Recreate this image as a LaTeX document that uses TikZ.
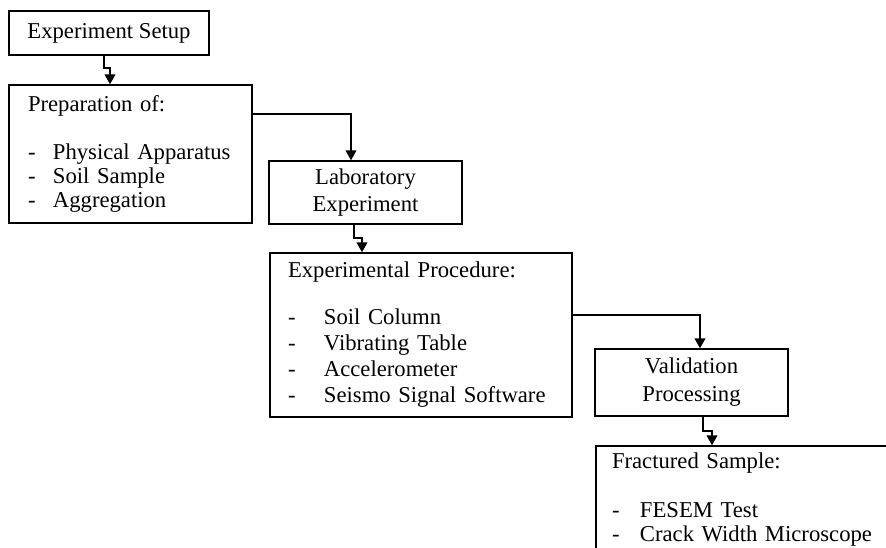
\documentclass[tikz,border=0pt]{standalone}
\usepackage{fontspec}
\setmainfont{Liberation Serif}
\usetikzlibrary{arrows.meta,calc}
\tikzset{
  box/.style={draw, line width=1pt, rectangle, inner sep=0pt, font=\fontsize{17}{18}\selectfont},
  arr/.style={line width=1.3pt, -{Triangle[length=7.5pt,width=8pt]}},
}
\begin{document}
\begin{tikzpicture}[x=0.75pt,y=-0.75pt]
\useasboundingbox (0,0) rectangle (886,547);
\clip (0,0) rectangle (886,547);
\node[box, minimum width=150pt, minimum height=33pt] (b1) at (109,33) {Experiment Setup};
\node[box, minimum width=182.25pt, minimum height=103.5pt, text width=153.75pt, align=left] (b2) at (130.5,154)
  {Preparation of:\\[18pt]\makebox[18.75pt][l]{-}Physical Apparatus\\\makebox[18.75pt][l]{-}Soil Sample\\\makebox[18.75pt][l]{-}Aggregation};
\node[box, minimum width=144.75pt, minimum height=47.25pt, align=center, font=\fontsize{17}{20.25}\selectfont] (b3) at (365.5,192.5)
  {Laboratory\\Experiment};
\node[box, minimum width=226.5pt, minimum height=123pt, text width=199.5pt, align=left, font=\fontsize{17}{19.5}\selectfont] (b4) at (421,335)
  {Experimental Procedure:\\[15.75pt]\makebox[27pt][l]{-}Soil Column\\\makebox[27pt][l]{-}Vibrating Table\\\makebox[27pt][l]{-}Accelerometer\\\makebox[27pt][l]{-}Seismo Signal Software};
\node[box, minimum width=144.75pt, minimum height=50.25pt, align=center, font=\fontsize{17}{21}\selectfont] (b5) at (691.5,382.5)
  {Validation\\Processing};
\node[box, minimum width=228pt, minimum height=80.25pt, text width=204pt, align=left, font=\fontsize{17}{18.4}\selectfont] (b6) at (748,499.5)
  {Fractured Sample:\\[18.4pt]\makebox[21pt][l]{-}FESEM Test\\\makebox[21pt][l]{-}Crack Width Microscope};
\draw[arr] ($(b1.south)+(-5,0)$) -- ++(0,12) -| ($(b2.north)+(-20.5,0)$);
\draw[arr] ($(b2.east)+(0,-40)$) -| ($(b3.north)+(-14.5,0)$);
\draw[arr] ($(b3.south)+(-11.5,0)$) -- ++(0,13) -| ($(b4.north)+(-59,0)$);
\draw[arr] ($(b4.east)+(0,-20)$) -| ($(b5.north)+(8.5,0)$);
\draw[arr] ($(b5.south)+(11.5,0)$) -- ++(0,14) -| ($(b6.north)+(-36,0)$);
\end{tikzpicture}
\end{document}
